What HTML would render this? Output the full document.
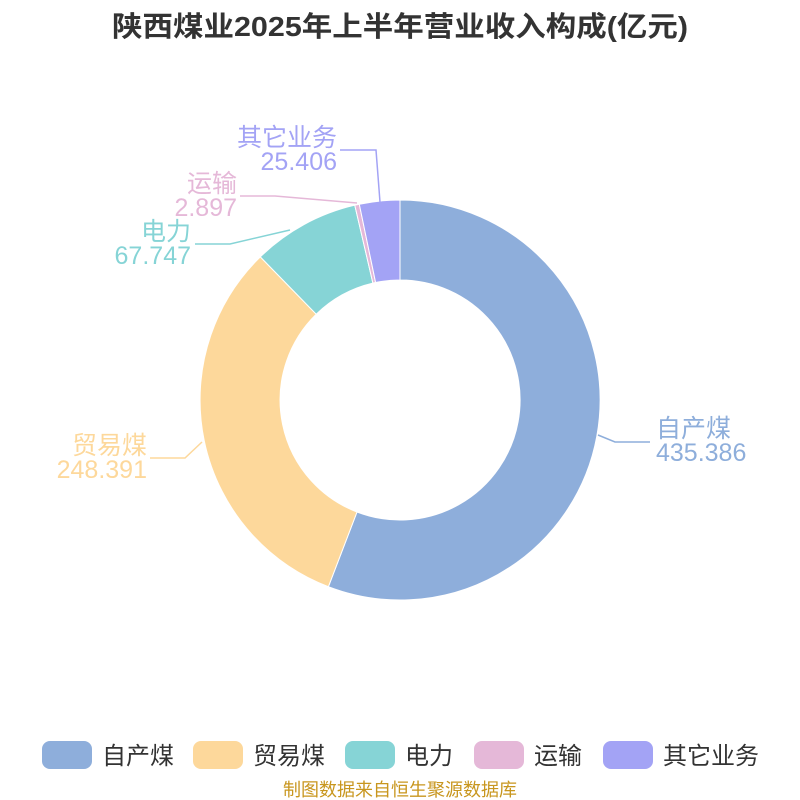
<!DOCTYPE html>
<html><head><meta charset="utf-8"><style>
body{margin:0;background:#fff;}
svg{display:block;font-family:"Liberation Sans","Noto Sans CJK SC",sans-serif;}
</style></head><body>
<svg width="800" height="800" viewBox="0 0 800 800">
<rect width="800" height="800" fill="#fff"/>
<text x="112" y="36" font-size="28" font-weight="bold" fill="#333" textLength="576" lengthAdjust="spacingAndGlyphs">陕西煤业2025年上半年营业收入构成(亿元)</text>
<g stroke="#fff" stroke-width="1">
<path d="M400,200 A200,200 0 1 1 328.4,586.7 L357.0,512.0 A120,120 0 1 0 400,280 Z" fill="#8eaedb"/>
<path d="M328.4,586.7 A200,200 0 0 1 260.3,256.9 L316.2,314.2 A120,120 0 0 0 357.0,512.0 Z" fill="#fdd89b"/>
<path d="M260.3,256.9 A200,200 0 0 1 354.8,205.2 L372.9,283.1 A120,120 0 0 0 316.2,314.2 Z" fill="#86d4d6"/>
<path d="M354.8,205.2 A200,200 0 0 1 359.3,204.2 L375.6,282.5 A120,120 0 0 0 372.9,283.1 Z" fill="#e5b8d8"/>
<path d="M359.3,204.2 A200,200 0 0 1 400,200 L400,280 A120,120 0 0 0 375.6,282.5 Z" fill="#a3a3f5"/>
</g>
<g fill="none" stroke-width="1.5">
<polyline points="598,435 615,442 650,442" stroke="#8eaedb"/>
<polyline points="202,442 185,458 150,458" stroke="#fdd89b"/>
<polyline points="290,230 230,244 195,244" stroke="#86d4d6"/>
<polyline points="357,203 275,196 240,196" stroke="#e5b8d8"/>
<polyline points="380,202 376,150 340,150" stroke="#a3a3f5"/>
</g>
<g font-size="25">
<text x="656" y="437" fill="#8eaedb">自产煤</text>
<text x="656" y="461" fill="#8eaedb">435.386</text>
<text x="147" y="454" fill="#fdd89b" text-anchor="end">贸易煤</text>
<text x="147" y="478" fill="#fdd89b" text-anchor="end">248.391</text>
<text x="191" y="240" fill="#86d4d6" text-anchor="end">电力</text>
<text x="191" y="264" fill="#86d4d6" text-anchor="end">67.747</text>
<text x="237" y="192" fill="#e5b8d8" text-anchor="end">运输</text>
<text x="237" y="216" fill="#e5b8d8" text-anchor="end">2.897</text>
<text x="337" y="146" fill="#a3a3f5" text-anchor="end">其它业务</text>
<text x="337" y="170" fill="#a3a3f5" text-anchor="end">25.406</text>
</g>
<g font-size="24" fill="#333">
<rect x="42" y="741" width="50" height="28" rx="8" fill="#8eaedb"/><text x="102" y="764">自产煤</text>
<rect x="193" y="741" width="50" height="28" rx="8" fill="#fdd89b"/><text x="253" y="764">贸易煤</text>
<rect x="345" y="741" width="50" height="28" rx="8" fill="#86d4d6"/><text x="405" y="764">电力</text>
<rect x="474" y="741" width="50" height="28" rx="8" fill="#e5b8d8"/><text x="534" y="764">运输</text>
<rect x="603" y="741" width="50" height="28" rx="8" fill="#a3a3f5"/><text x="663" y="764">其它业务</text>
</g>
<text x="400" y="796" text-anchor="middle" font-size="18" fill="#c8961e">制图数据来自恒生聚源数据库</text>
</svg>
</body></html>
